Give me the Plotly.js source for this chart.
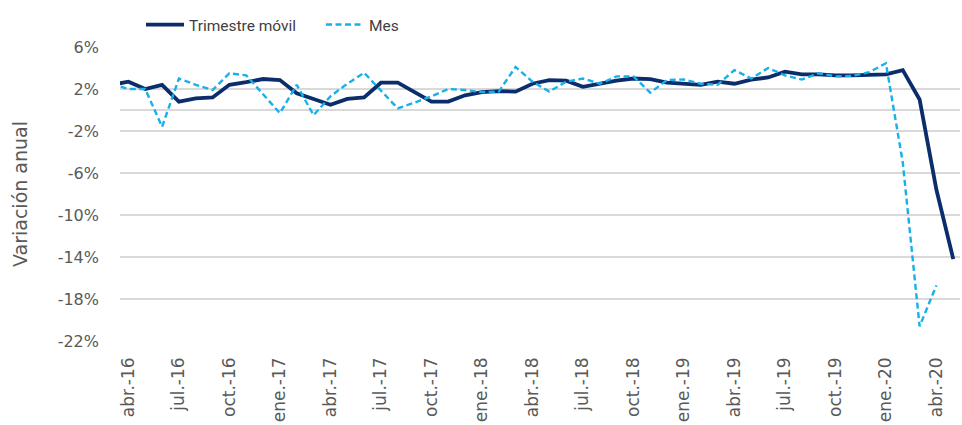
<!DOCTYPE html>
<html>
<head>
<meta charset="utf-8">
<script src="https://cdn.plot.ly/plotly-3.0.1.min.js"></script>
<style>
html,body{margin:0;padding:0;background:#fff;}
#chart{width:962px;height:425px;}
</style>
</head>
<body>
<div id="chart"></div>
<script>
// Categories (monthly), Spanish abbreviations
const months = [
  "mar.-16","abr.-16","may.-16","jun.-16","jul.-16","ago.-16","sep.-16","oct.-16","nov.-16","dic.-16",
  "ene.-17","feb.-17","mar.-17","abr.-17","may.-17","jun.-17","jul.-17","ago.-17","sep.-17","oct.-17","nov.-17","dic.-17",
  "ene.-18","feb.-18","mar.-18","abr.-18","may.-18","jun.-18","jul.-18","ago.-18","sep.-18","oct.-18","nov.-18","dic.-18",
  "ene.-19","feb.-19","mar.-19","abr.-19","may.-19","jun.-19","jul.-19","ago.-19","sep.-19","oct.-19","nov.-19","dic.-19",
  "ene.-20","feb.-20","mar.-20","abr.-20","may.-20"
];

// Trimestre móvil (% annual variation)
const trimestreMovil = [
  2.4, 2.7, 2.0, 2.4, 0.8, 1.1, 1.2, 2.4, 2.65, 2.95,
  2.85, 1.6, 1.05, 0.5, 1.05, 1.2, 2.6, 2.6, 1.7, 0.8, 0.8, 1.4,
  1.7, 1.8, 1.75, 2.5, 2.85, 2.8, 2.2, 2.5, 2.8, 3.0, 2.95, 2.6,
  2.5, 2.4, 2.7, 2.5, 2.9, 3.1, 3.65, 3.4, 3.4, 3.3, 3.3, 3.35,
  3.4, 3.8, 1.0, -7.6, -14.2
];

// Mes (% annual variation)
const mes = [
  2.5, 2.0, 2.0, -1.6, 3.0, 2.4, 1.9, 3.5, 3.3, 1.5,
  -0.3, 2.4, -0.5, 1.3, 2.5, 3.55, 1.9, 0.15, 0.7, 1.3, 2.0, 1.9,
  1.7, 1.75, 4.1, 2.7, 1.75, 2.7, 3.0, 2.5, 3.2, 3.2, 1.65, 2.86,
  2.9, 2.5, 2.4, 3.8, 3.0, 4.0, 3.3, 2.9, 3.5, 3.2, 3.25, 3.6,
  4.45, -5.0, -20.6, -16.7, null
];

// Tick labels on the x axis (every third month)
const xTickLabels = [
  "abr.-16","jul.-16","oct.-16","ene.-17","abr.-17","jul.-17","oct.-17","ene.-18",
  "abr.-18","jul.-18","oct.-18","ene.-19","abr.-19","jul.-19","oct.-19","ene.-20","abr.-20"
];

// Y ticks
const yTickVals = [-22, -18, -14, -10, -6, -2, 2, 6];
const yTickText = yTickVals.map(v => v + "%");

const traces = [
  {
    x: months, y: trimestreMovil, name: "Trimestre móvil",
    type: "scatter", mode: "lines",
    line: {color: "#0b2d6b", width: 3.8},
    hoverinfo: "skip"
  },
  {
    x: months, y: mes, name: "Mes",
    type: "scatter", mode: "lines",
    line: {color: "#17b0ea", width: 2.4, dash: "6px,3.5px"},
    hoverinfo: "skip"
  }
];

const layout = {
  width: 962, height: 425,
  margin: {l: 120, r: 2, t: 47, b: 84, autoexpand: false},
  paper_bgcolor: "#ffffff", plot_bgcolor: "#ffffff",
  font: {family: "DejaVu Sans, sans-serif", color: "#595959"},
  showlegend: true,
  legend: {
    orientation: "h", x: 0.025, xanchor: "left", y: 1.075, yanchor: "middle",
    font: {family: "Liberation Sans Narrow, Roboto, sans-serif", size: 15.5, color: "#404040"},
    itemwidth: 38,
    entrywidth: 127, bgcolor: "rgba(0,0,0,0)"
  },
  xaxis: {
    type: "category",
    range: [0.5, 50.4],
    tickmode: "array", tickvals: xTickLabels, ticktext: xTickLabels,
    tickangle: -90, ticks: "", ticklabelstandoff: 12,
    tickfont: {family: "DejaVu Sans, sans-serif", size: 17, color: "#595959"},
    showgrid: false, zeroline: false, showline: false,
    automargin: false, fixedrange: true
  },
  yaxis: {
    range: [-22, 6],
    tickmode: "array", tickvals: yTickVals, ticktext: yTickText,
    tickfont: {family: "DejaVu Sans, sans-serif", size: 16, color: "#595959"},
    ticks: "", ticklabelstandoff: 20,
    showgrid: true, gridcolor: "#d9d9d9", gridwidth: 1.3,
    zeroline: true, zerolinecolor: "#d9d9d9", zerolinewidth: 1.3,
    showline: false, automargin: false, fixedrange: true,
    title: {text: "Variación anual", font: {family: "DejaVu Sans, sans-serif", size: 19, color: "#595959"}, standoff: 25}
  }
};

Plotly.newPlot("chart", traces, layout, {displayModeBar: false, staticPlot: true});
</script>
</body>
</html>
